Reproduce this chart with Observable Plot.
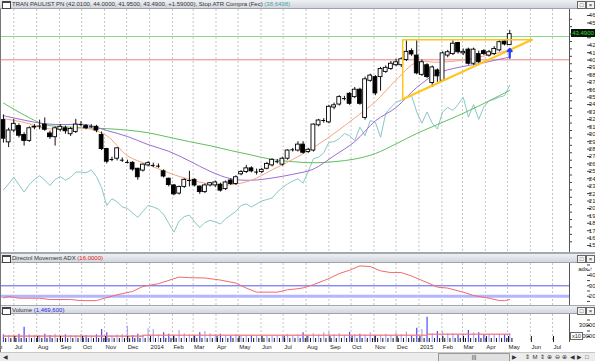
<!DOCTYPE html>
<html><head><meta charset="utf-8">
<script src="https://cdn.jsdelivr.net/npm/d3@7"></script>
<script src="https://cdn.jsdelivr.net/npm/@observablehq/plot@0.6"></script>
<style>
body{margin:0;background:#fff;}
#wrap{position:relative;width:595px;height:361px;overflow:hidden;font-family:"Liberation Sans",Arial,sans-serif;background:#fff;}
.hdr{position:absolute;left:0;width:595px;background:linear-gradient(#eef0f3,#d3d7de);border-bottom:1px solid #9ea3aa;box-sizing:border-box;font-size:6px;color:#333;white-space:nowrap;}
.hdr .t{position:absolute;left:12px;top:1px;}
.hdr .ic{position:absolute;left:2px;top:1px;width:7px;height:5px;border:1px solid #444;border-top-width:2px;background:#fff;box-sizing:content-box;}
.hdr .bt{position:absolute;top:1px;width:7px;height:6px;border:1px solid #666;background:#f4f4f4;font-size:6px;line-height:6px;text-align:center;color:#222;}
.sep{position:absolute;left:0;width:595px;background:#a3a8b0;}
.pl{position:absolute;left:0;}
.pl svg{display:block;}
#scroll{position:absolute;left:0;top:352px;width:595px;height:9px;background:#ececec;border-top:1px solid #c8c8c8;box-sizing:border-box;font-size:6px;color:#333;}
#scroll span{position:absolute;top:0px;}
</style></head>
<body><div id="wrap"></div>
<script>
// ---------- data ----------
const firstWeek = "2013-06-17";
const opens  = [31.9,28.9,30.5,31.1,29.9,29.1,30.9,31.1,31.3,30.1, 29.6,30.6,30.8,30.0,30.3,31.3,31.1,31.0,31.0,29.9, 28.0,26.6,26.7,26.5,26.2,26.15,25.35,25.1,25.8,25.8, 25.7,25.0,24.0,23.1,22.0,22.9,23.76,23.85,22.95,22.2, 23.1,23.1,23.2,22.6,23.76,23.3,24.6,24.9,25.4,24.9, 24.9,25.35,25.8,26.3,25.9,26.7,27.9,27.8,28.6,27.6, 27.8,31.2,31.85,31.6,33.6,34.0,34.8,35.45,35.0,36.0, 32.2,37.2,37.7,37.7,38.4,38.8,39.3,39.3,40.0,41.2, 40.6,38.0,39.3,36.9,38.6,37.2,40.6,40.8,42.3,40.9, 41.4,39.5,40.8,41.2,40.6,40.8,41.3,42.5,42.01];
const highs  = [32.6,30.8,32.0,31.4,30.2,31.0,31.3,31.9,32.2,30.4, 31.0,31.3,31.1,30.9,32.0,31.7,31.3,31.3,31.2,30.3, 28.1,26.9,28.2,26.8,26.5,26.3,25.4,26.0,26.3,26.1, 26.0,25.2,24.1,23.2,23.0,24.0,25.0,24.0,23.0,23.3, 23.5,23.7,23.4,23.7,24.0,24.4,25.1,25.8,25.6,25.3, 25.4,26.2,26.7,26.6,26.9,27.9,28.1,29.0,29.0,28.1, 31.4,32.0,32.1,33.9,34.2,35.2,35.1,35.6,36.3,36.2, 37.7,38.1,37.9,39.0,39.2,39.8,40.1,40.3,42.6,41.5, 42.6,40.0,39.5,39.2,38.8,41.1,41.3,42.6,42.4,41.5, 41.6,41.6,41.2,41.4,41.3,41.8,42.6,42.6,44.0];
const lows   = [28.8,28.2,30.2,29.5,28.4,28.9,30.6,30.6,30.4,29.3, 28.4,30.3,30.0,29.7,30.1,31.0,30.6,30.8,30.2,27.8, 26.0,26.3,26.4,26.2,26.0,25.0,23.8,24.9,25.6,25.5, 25.4,24.1,22.9,21.7,21.8,22.7,22.9,22.9,21.9,22.0, 22.9,22.8,22.2,22.4,23.1,23.1,24.4,24.7,24.8,24.5, 24.7,25.2,25.6,26.0,25.7,26.5,27.6,27.6,27.3,27.4, 27.6,31.0,31.5,31.4,33.3,33.8,34.5,33.9,34.8,33.9, 31.9,37.0,35.2,35.8,38.2,38.6,39.1,39.0,39.8,40.5, 38.0,37.8,37.5,36.3,37.0,37.0,40.3,40.6,40.8,40.6, 39.3,39.3,39.5,40.6,40.4,40.6,41.1,41.9,41.95];
const closes = [29.4,30.5,31.4,29.8,29.1,30.8,31.0,31.1,30.6,29.6, 30.8,31.0,30.4,30.7,31.3,31.3,30.8,31.0,30.5,28.0, 26.3,26.6,28.1,26.5,26.2,25.25,24.2,25.9,26.1,25.8, 25.7,24.3,23.15,21.9,22.9,23.85,23.76,23.1,22.2,23.1, 23.4,23.5,22.4,23.5,23.3,24.2,24.9,25.4,25.0,24.9, 25.2,26.0,26.55,26.3,26.7,27.8,27.9,28.6,27.5,27.9, 31.3,31.85,31.85,33.7,33.9,35.0,34.8,34.1,36.0,34.1, 37.4,37.9,35.5,38.8,38.95,39.5,39.7,40.1,41.1,40.75, 38.2,39.7,37.7,39.0,37.8,40.9,41.05,42.2,41.05,41.1, 39.5,41.4,39.7,40.8,41.05,41.5,42.4,42.1,43.49];
const volumes = [21500,21000,20500,22000,28500,21500,21000,21000,22000,21000, 22000,20500,21500,21000,20800,21800,21000,20500,21500,26400, 23400,20500,21500,21800,29400,21000,22000,21000,27000,26400, 21500,23400,22000,21000,25500,22500,21500,21000,23400,24600, 22500,21500,22000,21000,20500,21800,20500,21000,20800,20500, 21000,20500,21000,20500,21000,21800,21000,21500,23400,21000, 22500,21500,23400,24000,21500,22500,21000,23600,21500,22000, 21500,23400,21000,21500,22000,21000,23400,21500,24000,21000, 27600,26400,37600,22500,24600,24600,22500,22500,21500,22500, 25500,23400,23400,21500,21800,21500,22000,21500,22500];
const stopAtr = [22.5,23.3,24.2,23.2,22.2,23.2,23.9,24.4,23.8,23.1, 23.9,24.3,23.8,24.2,24.9,24.9,24.8,25.2,24.3,22.8, 20.4,21.3,20.9,20.2,20.0,19.4,18.8,19.6,20.4,20.2, 19.9,19.2,18.0,16.8,18.3,18.9,19.1,18.2,17.4,18.1, 18.4,18.2,17.9,18.6,19.1,19.6,20.4,20.6,20.2,20.6, 21.0,21.2,21.4,22.2,22.8,23.3,23.7,24.0,23.4,25.0, 26.7,26.9,27.5,28.9,29.0,29.4,30.1,29.8,29.15,30.95, 29.8,31.85,31.6,29.6,32.8,33.6,34.3,34.6,34.9,35.2, 33.0,31.5,33.0,31.5,30.7,33.0,33.6,33.2,34.0,35.0, 32.3,34.0,32.0,33.7,34.5,34.7,35.0,35.2,36.6];
// moving averages read at sample weeks
const maWeeks = [0,4,8,12,16,20,24,28,32,36,40,44,48,52,56,60,64,68,72,76,80,84,88,92,96,98];
const maFast  = [32.1,31.6,30.8,30.7,30.8,29.8,27.1,25.9,24.8,23.9,23.3,23.2,23.8,25.2,26.6,28.2,30.1,32.2,34.4,37.3,39.7,39.7,39.9,40.4,41.0,41.4];
const maMid   = [32.5,31.9,31.4,31.3,31.3,30.5,29.7,28.6,27.7,26.4,25.0,24.0,23.8,24.1,24.6,25.3,27.1,29.0,31.8,33.6,36.3,38.2,39.0,39.5,40.1,40.4];
const maSlow  = [34.2,32.6,31.3,31.0,30.85,30.75,30.55,30.2,29.6,29.0,28.45,27.8,27.2,26.6,26.3,26.15,26.3,26.65,27.4,28.7,30.1,31.3,32.5,33.8,35.2,35.9];
// ADX read at sample weeks
const adxWeeks = [0,1,3,7,9,13,15,18,19,22,25,27,30,34,36,39,42,45,47,49,53,55,57,58,60,63,65,67,69,71,73,75,77,79,81,83,84,86,89,91,94,96,97,98];
const adxVals  = [18.4,19.7,18.1,18.1,16.8,16.8,15.8,15.8,17.3,21.4,24.6,29.4,32,38.4,37.8,37.5,35.5,32.6,27.8,23.9,23.9,26.2,27.2,28,31.1,36.9,41.7,45,49.1,48.5,44.3,42.7,42.7,39.4,35.2,31,28.7,27.8,23.9,20.7,18.1,15.8,15.8,16.8];
// volume average steps
const volMaDates = ["2013-06-17","2013-12-23","2015-01-12","2015-05-04"];
const volMaVals  = [20300,21100,22100,22100];
// horizontal levels, triangle, signal
const levelValues = [43.17, 40.03];
const levelColors = ["#8ad88a", "#ec8080"];
const triDates = ["2014-12-10","2015-06-03"];
const triPrices = [42.73, 34.7];
const adxRefLines = [30, 20];
const signalFrom = 40.3, signalTo = 41.5;
// texts
const ticker = "TRAN PAULIST PN";
const change = "+1.59000";
const stopLabel = "Stop ATR Compra (Fec)";
const stopValue = "38.6498";
const adxLabel = "Directnl Movement ADX", adxValue = "16.0000";
const volLabel = "Volume", volValue = "1,469,600";
const monthNames = ["Jan","Feb","Mar","Apr","May","Jun","Jul","Aug","Sep","Oct","Nov","Dec"];

// ---------- tables ----------
const DAY = 864e5;
const t0 = new Date(firstWeek + "T00:00:00Z");
const weekDate = i => new Date(+t0 + 7 * i * DAY);
const candles = opens.map((o, i) => ({
  date: weekDate(i), x1: new Date(+weekDate(i) - 2.6 * DAY), x2: new Date(+weekDate(i) + 2.6 * DAY),
  open: o, high: highs[i], low: lows[i], close: closes[i], volume: volumes[i], stop: stopAtr[i]
}));
const maTable = maWeeks.map((w, i) => ({date: weekDate(w), fast: maFast[i], mid: maMid[i], slow: maSlow[i]}));
const adxTable = adxWeeks.map((w, i) => ({date: weekDate(w), adx: adxVals[i]}));
const volMa = volMaDates.map((d, i) => ({date: new Date(d + "T00:00:00Z"), v: volMaVals[i]}));
const levels = levelValues.map((v, i) => ({value: v, color: levelColors[i]}));
const tri = [
  {date: new Date(triDates[1]), price: triPrices[0]},
  {date: new Date(triDates[0]), price: triPrices[0]},
  {date: new Date(triDates[0]), price: triPrices[1]}
];
const triDiag = [tri[2], tri[0]];
const last = candles[candles.length - 1];
const signal = [{date: last.date, from: signalFrom, to: signalTo}];
// axis labels hidden under the last-price box
const hiddenByBox = d => Math.abs(d - last.close) < 0.8;

const xDomain = [new Date("2013-06-13T00:00:00Z"), new Date("2015-07-24T00:00:00Z")];
const months = d3.utcMonths(new Date("2013-06-01T00:00:00Z"), xDomain[1]);
const monthFmt = d => d.getUTCMonth() === 0 ? String(d.getUTCFullYear()) : monthNames[d.getUTCMonth()];
const W = 595, MR = 26;
const font = {fontFamily: "'Liberation Sans', Arial, sans-serif", fontSize: "6px", color: "#222", background: "transparent", overflow: "visible"};
const grid = Plot.ruleX(months, {stroke: "#c6c6c6", strokeDasharray: "2,2"});
const edge = Plot.ruleX([xDomain[1]], {stroke: "#555"});

// ---------- main panel ----------
const main = Plot.plot({
  width: W, height: 243, marginLeft: 0, marginRight: MR, marginTop: 0, marginBottom: 0,
  style: font,
  x: {type: "utc", domain: xDomain, axis: null},
  y: {domain: [14.06, 46.81], axis: null},
  marks: [
    grid,
    Plot.ruleY(levels, {y: "value", stroke: d => d.color, strokeWidth: 1}),
    Plot.line(candles, {x: "date", y: "stop", stroke: "#8cc6c6", strokeWidth: 1}),
    Plot.line(maTable, {x: "date", y: "slow", stroke: "#5fbf5f", strokeWidth: 1, curve: "catmull-rom"}),
    Plot.line(maTable, {x: "date", y: "mid", stroke: "#9c6cd4", strokeWidth: 1, curve: "catmull-rom"}),
    Plot.line(maTable, {x: "date", y: "fast", stroke: "#f6a482", strokeWidth: 1, curve: "catmull-rom"}),
    Plot.ruleX(candles, {x: "date", y1: "low", y2: "high", stroke: "#111", strokeWidth: 1}),
    Plot.rect(candles.filter(d => d.open !== d.close), {x1: "x1", x2: "x2", y1: "open", y2: "close",
      fill: d => d.close > d.open ? "white" : "black", stroke: "black", strokeWidth: 0.9}),
    Plot.ruleY(candles.filter(d => d.open === d.close), {y: "open", x1: "x1", x2: "x2", stroke: "black"}),
    Plot.line(tri, {x: "date", y: "price", stroke: "#ffc61a", strokeWidth: 1.5}),
    Plot.line(triDiag, {x: "date", y: "price", stroke: "#ffc61a", strokeWidth: 2.2}),
    Plot.arrow(signal, {x: "date", y1: "from", y2: "to", stroke: "#1f3cff", strokeWidth: 2.2, headLength: 5, headAngle: 80}),
    edge,
    Plot.axisY(d3.range(15, 47), {anchor: "right", tickSize: 4, textAnchor: "end", dx: 17, fontSize: 6,
      tickFormat: d => hiddenByBox(d) ? "" : String(d), stroke: "#444", fill: "#222"}),
    Plot.axisY(d3.range(15.5, 46.5, 1), {anchor: "right", tickSize: 2, tickFormat: () => "", stroke: "#444"})
  ]
});

// ---------- ADX panel ----------
const adx = Plot.plot({
  width: W, height: 42, marginLeft: 0, marginRight: MR, marginTop: 0, marginBottom: 0,
  style: font,
  x: {type: "utc", domain: xDomain, axis: null},
  y: {domain: [11.1, 51.4], axis: null},
  marks: [
    grid,
    Plot.ruleY([adxRefLines[1]], {stroke: "#b4b4ff", strokeWidth: 3}),
    Plot.ruleY([adxRefLines[0]], {stroke: "#5858ee", strokeWidth: 1}),
    Plot.line(adxTable, {x: "date", y: "adx", stroke: "#f26a6a", strokeWidth: 1}),
    edge,
    Plot.axisY(d3.range(15, 51, 5), {anchor: "right", tickSize: 3, textAnchor: "end", dx: 17, fontSize: 6,
      tickFormat: d => (d % 10 === 0 && d < 50) ? String(d) : "", stroke: "#444", fill: "#222"})
  ]
});

// ---------- Volume panel ----------
const volDomain = [14545, 40000];
const vol = Plot.plot({
  width: W, height: 38, marginLeft: 0, marginRight: MR, marginTop: 0, marginBottom: 10,
  style: font,
  x: {type: "utc", domain: xDomain, axis: null},
  y: {domain: volDomain, axis: null},
  marks: [
    grid,
    Plot.ruleX(candles, {x: "date", y1: () => volDomain[0], y2: "volume",
      stroke: d => d.close < d.open ? "#4a4aff" : "#a6a6ff", strokeWidth: 1.2}),
    Plot.line(volMa, {x: "date", y: "v", curve: "step-after", stroke: "#f47a7a", strokeWidth: 1.6, strokeOpacity: 0.85}),
    edge,
    Plot.axisY([20000, 25000, 30000, 35000], {anchor: "right", tickSize: 3, textAnchor: "end", dx: 17, fontSize: 6,
      tickFormat: d => (d === 30000 || d === 20000) ? String(d) : "", stroke: "#444", fill: "#222"}),
    Plot.axisX(candles.map(d => new Date(+d.date + 3 * DAY)), {anchor: "bottom", tickSize: -4, tickFormat: () => "", stroke: "#111"}),
    Plot.axisX(months, {anchor: "bottom", tickSize: -6, tickPadding: 8, tickFormat: monthFmt, textAnchor: "start", dx: 1, fontSize: 6, stroke: "#111", fill: "#222"})
  ]
});

// ---------- layout ----------
const wrap = document.getElementById("wrap");
function header(top, h, html) {
  const d = document.createElement("div");
  d.className = "hdr";
  d.style.top = top + "px"; d.style.height = h + "px";
  d.innerHTML = `<span class="ic"></span><span class="t">${html}</span>
    <span class="bt" style="left:577px">&#9633;</span><span class="bt" style="left:586px">&#215;</span>`;
  wrap.appendChild(d);
}
function place(svg, top) {
  const d = document.createElement("div");
  d.className = "pl"; d.style.top = top + "px";
  d.appendChild(svg); wrap.appendChild(d);
}
function sep(top, h) {
  const d = document.createElement("div");
  d.className = "sep"; d.style.top = top + "px"; d.style.height = h + "px";
  wrap.appendChild(d);
}
const f4 = d3.format(".4f");
header(0, 9, `${ticker} (${f4(last.open)}, ${f4(last.high)}, ${f4(last.low)}, ${f4(last.close)}, ${change}), ${stopLabel} <span style="color:#4aa5a5">(${stopValue})</span>`);
place(main, 9);
sep(252, 2);
header(254, 9, `${adxLabel} <span style="color:#e52020">(${adxValue})</span>`);
place(adx, 263);
sep(305, 1);
header(306, 8, `${volLabel} <span style="color:#2020ee">(${volValue})</span>`);
place(vol, 314);

// last price box (positioned with the main y scale)
const py = 9 + main.scale("y").apply(last.close);
const box = document.createElement("div");
box.textContent = f4(last.close);
box.style.cssText = `position:absolute;left:571px;top:${py - 5}px;width:24px;height:8px;background:#111;color:#1ee01e;font-size:6px;line-height:8px;text-align:center;`;
wrap.appendChild(box);
// x10 multiplier box on the volume axis
const vy = 314 + vol.scale("y").apply(20000);
const mb = document.createElement("div");
mb.textContent = "x10";
mb.style.cssText = `position:absolute;left:570px;top:${vy - 3.5}px;width:11px;height:6px;background:#fff;border:1px solid #666;font-size:5.5px;line-height:6px;text-align:center;color:#222;`;
wrap.appendChild(mb);
// left frame line
const lf = document.createElement("div");
lf.style.cssText = "position:absolute;left:0;top:9px;width:1px;height:343px;background:#777;";
wrap.appendChild(lf);
// scrollbar strip
const sc = document.createElement("div");
sc.id = "scroll";
sc.innerHTML = `<span style="left:3px">&#9664;</span>
<span style="left:438px;width:70px;height:7px;background:#e0e0e0;border:1px solid #9a9a9a;text-align:center;line-height:7px;">|||</span>
<span style="left:512px">&#9654;</span>
<span style="left:525px;letter-spacing:2.5px">&#8661;M&#8661;&#8853;&#8854;&#8853;&#9664;&#9654;&#9633;</span>`;
wrap.appendChild(sc);
</script>
</body></html>
